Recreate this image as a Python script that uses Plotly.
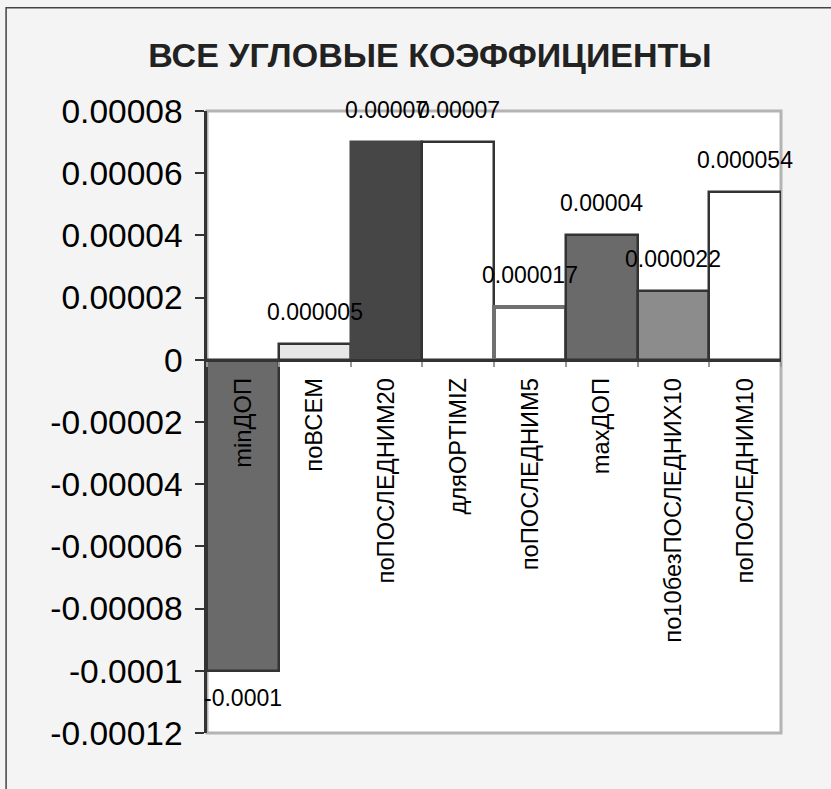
import plotly.graph_objects as go

# Slope coefficients per calculation variant
categories = ["minДОП", "поВСЕМ", "поПОСЛЕДНИМ20", "дляOPTIMIZ",
              "поПОСЛЕДНИМ5", "maxДОП", "по10безПОСЛЕДНИХ10", "поПОСЛЕДНИМ10"]
values = [-0.0001, 0.000005, 0.00007, 0.00007, 0.000017, 0.00004, 0.000022, 0.000054]

y_tickvals = [-0.00012, -0.0001, -0.00008, -0.00006, -0.00004, -0.00002,
              0, 0.00002, 0.00004, 0.00006, 0.00008]
y_ticktext = ["-0.00012", "-0.0001", "-0.00008", "-0.00006", "-0.00004", "-0.00002",
              "0", "0.00002", "0.00004", "0.00006", "0.00008"]

title_text = "ВСЕ УГЛОВЫЕ КОЭФФИЦИЕНТЫ"

fill_colors = ["#6a6a6a", "#e6e6e6", "#464646", "#ffffff",
               "#ffffff", "#6a6a6a", "#8c8c8c", "#ffffff"]
line_colors = ["#333333", "#333333", "#464646", "#333333",
               "#707070", "#333333", "#333333", "#333333"]
line_widths = [2.5, 2.5, 2.5, 2.5, 4, 2.5, 2.5, 2.5]

FONT = "Liberation Sans, Arial, sans-serif"


def fmt(v):
    s = f"{v:.6f}".rstrip("0").rstrip(".")
    return s if s not in ("", "-0") else "0"


y_min, y_max = y_tickvals[0], y_tickvals[-1]
zero_pos = (0 - y_min) / (y_max - y_min)

fig = go.Figure()
fig.add_trace(go.Bar(
    x=categories, y=values,
    marker=dict(color=fill_colors, line=dict(color=line_colors, width=line_widths)),
    hoverinfo="x+y",
))

# value labels above / below each bar
for c, v in zip(categories, values):
    fig.add_annotation(
        x=c, y=v, text=fmt(v), showarrow=False,
        yshift=32 if v >= 0 else -27, yanchor="middle",
        font=dict(family=FONT, size=23, color="#000000"),
    )

# plot area frame
fig.add_shape(type="rect", xref="x domain", yref="y domain", x0=0, x1=1, y0=0, y1=1,
              line=dict(color="#b4b4b4", width=3), fillcolor="rgba(0,0,0,0)", layer="below")
# chart frame
fig.add_shape(type="rect", xref="paper", yref="paper", x0=-0.35, x1=1.3, y0=-0.3, y1=1.166,
              line=dict(color="#444444", width=1.5), fillcolor="rgba(0,0,0,0)", layer="below")

fig.update_layout(
    width=831, height=789,
    margin=dict(l=207, r=50, t=111, b=56),
    paper_bgcolor="#f4f4f4", plot_bgcolor="#ffffff",
    bargap=0, showlegend=False,
    title=dict(text=f"<b>{title_text}</b>", x=(430 - 207) / 574, xref="paper", xanchor="center",
               y=1 - 55 / 789, yref="container", yanchor="middle",
               font=dict(family=FONT, size=34, color="#222222")),
    xaxis=dict(
        type="category", range=[-0.5, len(categories) - 0.5],
        anchor="free", position=zero_pos,
        showline=True, linecolor="#333333", linewidth=2.5,
        ticks="outside", tickson="boundaries", ticklen=5, tickcolor="#999999", tickwidth=1.5,
        tickangle=-90, tickfont=dict(family=FONT, size=23.7, color="#000000"),
        ticklabelstandoff=7,
        showgrid=False, zeroline=False, fixedrange=True,
    ),
    yaxis=dict(
        range=[y_min, y_max], tickmode="array", tickvals=y_tickvals, ticktext=y_ticktext,
        showline=True, linecolor="#333333", linewidth=2.5,
        ticks="outside", ticklen=9, tickcolor="#333333", tickwidth=1.5,
        tickfont=dict(family=FONT, size=33.5, color="#000000"),
        ticklabelstandoff=6,
        showgrid=False, zeroline=False, fixedrange=True,
    ),
)

fig.write_html("out.html")
